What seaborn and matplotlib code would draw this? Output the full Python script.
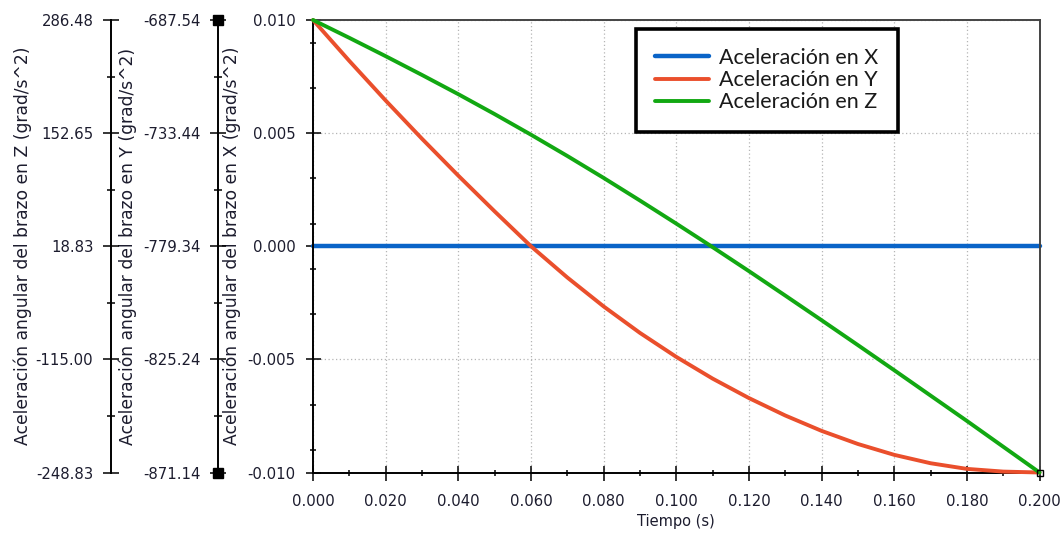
import numpy as np
import pandas as pd
import seaborn as sns
import matplotlib.pyplot as plt
from matplotlib.ticker import FixedLocator, FormatStrFormatter

# ---- data -------------------------------------------------------------
tiempo = [0.00, 0.01, 0.02, 0.03, 0.04, 0.05, 0.06, 0.07, 0.08, 0.09, 0.10,
          0.11, 0.12, 0.13, 0.14, 0.15, 0.16, 0.17, 0.18, 0.19, 0.20]

acel_x = [0.0, 0.0, 0.0, 0.0, 0.0, 0.0, 0.0, 0.0, 0.0, 0.0, 0.0,
          0.0, 0.0, 0.0, 0.0, 0.0, 0.0, 0.0, 0.0, 0.0, 0.0]

acel_y = [-687.54, -704.16, -720.22, -735.74, -750.70, -765.20, -779.34,
          -792.01, -803.76, -814.50, -824.23, -833.04, -840.94, -848.01,
          -854.25, -859.57, -863.98, -867.38, -869.67, -870.77, -871.14]

acel_z = [286.48, 265.33, 243.66, 221.44, 198.69, 175.14, 150.78, 125.62,
          99.66, 72.89, 45.59, 17.75, -10.62, -39.52, -68.70, -98.14,
          -127.85, -157.83, -187.81, -218.33, -248.83]

series_labels = ["Aceleración en X", "Aceleración en Y", "Aceleración en Z"]

x_ticks = [0.000, 0.020, 0.040, 0.060, 0.080, 0.100, 0.120, 0.140, 0.160, 0.180, 0.200]
x_minor = [0.010, 0.030, 0.050, 0.070, 0.090, 0.110, 0.130, 0.150, 0.170, 0.190]
ax_ticks = [0.010, 0.005, 0.000, -0.005, -0.010]
ax_minor = [0.009, 0.007, 0.003, 0.001, -0.001, -0.003, -0.007, -0.009]
ay_ticks = [-687.54, -733.44, -779.34, -825.24, -871.14]
az_ticks = [286.48, 152.65, 18.83, -115.00, -248.83]

label_x = "Aceleración angular del brazo en X (grad/s^2)"
label_y = "Aceleración angular del brazo en Y (grad/s^2)"
label_z = "Aceleración angular del brazo en Z (grad/s^2)"
label_t = "Tiempo (s)"

# ---- style ------------------------------------------------------------
sns.set_style("white")
plt.rcParams["font.family"] = ["DejaVu Sans"]
plt.rcParams["axes.unicode_minus"] = False

COL_X = "#0a64c8"
COL_Y = "#ea4f2c"
COL_Z = "#12a812"
TXT = "#1c1c2e"
TICK_FS = 10.7
LABEL_FS = 12.3

fig = plt.figure(figsize=(10.6, 5.33), dpi=100)
ax = fig.add_axes([0.2953, 0.1135, 0.6854, 0.849])
ax_y = ax.twinx()
ax_z = ax.twinx()

sns.lineplot(x=tiempo, y=acel_x, ax=ax, color=COL_X, linewidth=3.2,
             label=series_labels[0], legend=False, errorbar=None, clip_on=False)
sns.lineplot(x=tiempo, y=acel_y, ax=ax_y, color=COL_Y, linewidth=2.8,
             label=series_labels[1], legend=False, errorbar=None, clip_on=False)
sns.lineplot(x=tiempo, y=acel_z, ax=ax_z, color=COL_Z, linewidth=2.8,
             label=series_labels[2], legend=False, errorbar=None, clip_on=False)
# cursor box at the last sample
ax_z.plot(tiempo[-1], acel_z[-1], marker="s", ms=5, mfc="none", mec="black",
          mew=1.0, ls="none", clip_on=False, zorder=5)

# ---- main axis (X) ----------------------------------------------------
ax.set_xlim(tiempo[0], tiempo[-1])
ax.set_ylim(min(ax_ticks), max(ax_ticks))
ax.xaxis.set_major_locator(FixedLocator(x_ticks))
ax.xaxis.set_minor_locator(FixedLocator(x_minor))
ax.yaxis.set_major_locator(FixedLocator(ax_ticks))
ax.yaxis.set_minor_locator(FixedLocator(ax_minor))
ax.xaxis.set_major_formatter(FormatStrFormatter("%.3f"))
ax.yaxis.set_major_formatter(FormatStrFormatter("%.3f"))
ax.grid(True, which="major", linestyle=(0, (1, 2)), color="#b5b5b5", linewidth=0.9)
ax.tick_params(which="major", direction="inout", length=10.8, width=1.1,
               color="black", labelsize=TICK_FS, labelcolor=TXT, pad=7)
ax.tick_params(which="minor", direction="inout", length=4.5, width=1.1, color="black")
ax.tick_params(axis="x", which="major", pad=10)
ax.tick_params(axis="y", which="both", left=True, right=False)
ax.tick_params(axis="x", which="both", bottom=True, top=False)
for side in ("left", "bottom"):
    ax.spines[side].set_color("black")
    ax.spines[side].set_linewidth(1.4)
for side in ("top", "right"):
    ax.spines[side].set_color("#444444")
    ax.spines[side].set_linewidth(1.4)
ax.set_xlabel(label_t, fontsize=10.5, color=TXT, labelpad=4)
ax.set_ylabel(label_x, fontsize=LABEL_FS, color=TXT)
ax.yaxis.set_label_coords(-0.0991, 0.5)

# ---- secondary axes (Y and Z) -----------------------------------------
def offset_axis(axis, pos, ticks, label, label_x_pos):
    axis.set_ylim(min(ticks), max(ticks))
    for side in ("right", "top", "bottom"):
        axis.spines[side].set_visible(False)
    axis.spines["left"].set_visible(True)
    axis.spines["left"].set_position(("axes", pos))
    axis.spines["left"].set_color("black")
    axis.spines["left"].set_linewidth(1.4)
    axis.yaxis.set_ticks_position("left")
    axis.yaxis.set_label_position("left")
    axis.yaxis.set_major_locator(FixedLocator(ticks))
    srt = sorted(ticks)
    axis.yaxis.set_minor_locator(FixedLocator(
        [(a + b) / 2 for a, b in zip(srt[:-1], srt[1:])]))
    axis.yaxis.set_major_formatter(FormatStrFormatter("%.2f"))
    axis.tick_params(axis="y", which="major", direction="inout", length=11,
                     width=1.1, color="black", labelsize=TICK_FS,
                     labelcolor=TXT, pad=7)
    axis.tick_params(axis="y", which="minor", direction="inout", length=5.5,
                     width=1.1, color="black")
    axis.set_ylabel(label, fontsize=LABEL_FS, color=TXT)
    axis.yaxis.set_label_coords(label_x_pos, 0.5)

offset_axis(ax_y, -0.1308, ay_ticks, label_y, -0.2422)
offset_axis(ax_z, -0.2785, az_ticks, label_z, -0.3866)

# end caps on the Y axis
ax_y.plot([-0.1308, -0.1308], [min(ay_ticks), max(ay_ticks)],
          transform=ax_y.get_yaxis_transform(), marker="s", ms=6.5,
          color="black", ls="none", clip_on=False, zorder=6)

# ---- legend -----------------------------------------------------------
handles = [ax.get_lines()[0], ax_y.get_lines()[0], ax_z.get_lines()[0]]
leg = ax_z.legend(handles, series_labels, loc="upper left",
                  bbox_to_anchor=(0.4446, 0.981), borderaxespad=0,
                  frameon=True, fancybox=False, edgecolor="black",
                  framealpha=1, prop={"family": "Lato", "size": 15.5},
                  handlelength=2.5, handletextpad=0.45, borderpad=0.9,
                  labelspacing=0.1)
leg.get_frame().set_linewidth(2.6)
for t in leg.get_texts():
    t.set_color("#1a1a1a")

fig.savefig("out.png", dpi=100)
